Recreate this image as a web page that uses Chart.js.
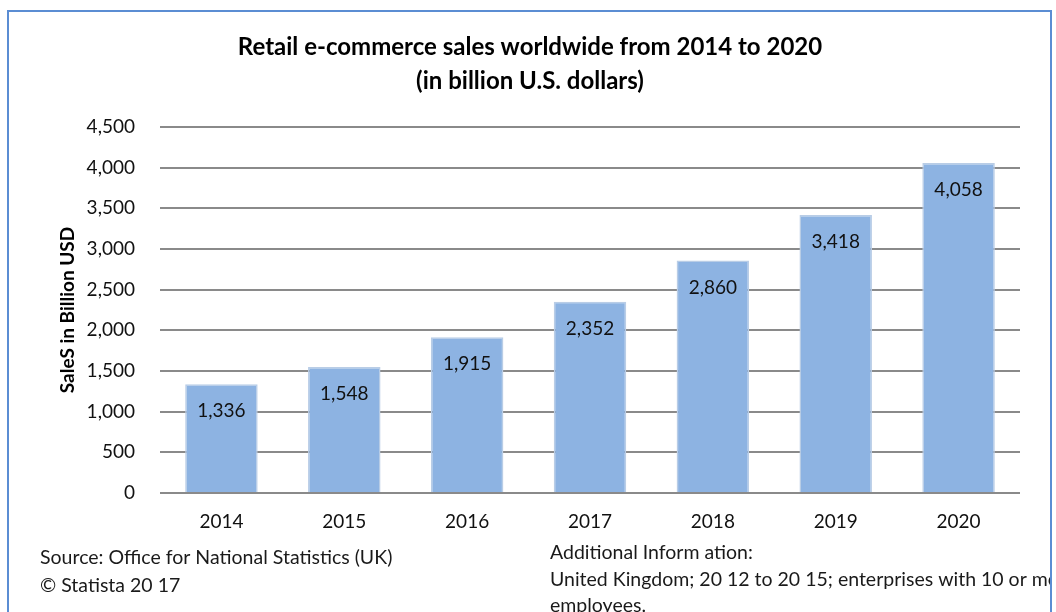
<!DOCTYPE html>
<html>
<head>
<meta charset="utf-8">
<title>Retail e-commerce sales worldwide</title>
<script src="https://cdn.jsdelivr.net/npm/chart.js@4/dist/chart.umd.min.js"></script>
<style>
  html, body { margin: 0; padding: 0; background: #ffffff; }
  #wrap { position: relative; width: 1056px; height: 612px; }
</style>
</head>
<body>
<div id="wrap"><canvas id="chart" width="1056" height="612"></canvas></div>
<script>
// Chart data
const years = ['2014', '2015', '2016', '2017', '2018', '2019', '2020'];
const sales = [1336, 1548, 1915, 2352, 2860, 3418, 4058];

// Text
const titleLines = ['Retail e-commerce sales worldwide from 2014 to 2020', '(in billion U.S. dollars)'];
const yAxisTitle = 'SaleS in Billion USD';
const sourceLines = ['Source: Office for National Statistics (UK)', '\u00A9 Statista 20 17'];
const infoLines = ['Additional Inform ation:', 'United Kingdom; 20 12 to 20 15; enterprises with 10 or more', 'employees.'];

const FONT = 'Lato, "Liberation Sans", sans-serif';

// Frame, title, footer notes
const decorations = {
  id: 'decorations',
  beforeDraw(chart) {
    const ctx = chart.ctx;
    ctx.save();
    ctx.fillStyle = '#ffffff';
    ctx.fillRect(0, 0, chart.width, chart.height);
    ctx.restore();
  },
  afterDraw(chart) {
    const ctx = chart.ctx;
    ctx.save();
    // title
    ctx.fillStyle = '#000000';
    ctx.font = 'bold 24px ' + FONT;
    ctx.textAlign = 'center';
    ctx.textBaseline = 'middle';
    ctx.fillText(titleLines[0], 530, 47);
    ctx.fillText(titleLines[1], 530, 81);

    // footer notes, clipped by the frame
    ctx.beginPath();
    ctx.rect(8, 11, 1043, 612);
    ctx.clip();
    ctx.font = '19.5px ' + FONT;
    ctx.textAlign = 'left';
    ctx.fillStyle = '#1a1a1a';
    ctx.fillText(sourceLines[0], 40, 558);
    ctx.fillText(sourceLines[1], 40, 586);
    ctx.fillText(infoLines[0], 550, 553);
    ctx.fillText(infoLines[1], 550, 580);
    ctx.fillText(infoLines[2], 550, 606);
    ctx.restore();

    // frame: left, top, right edges
    ctx.save();
    ctx.strokeStyle = '#5B8DD3';
    ctx.lineWidth = 2;
    ctx.beginPath();
    ctx.moveTo(8, 612);
    ctx.lineTo(8, 11);
    ctx.lineTo(1051, 11);
    ctx.lineTo(1051, 612);
    ctx.stroke();
    ctx.restore();
  }
};

// Value labels inside the top of each bar
const barValues = {
  id: 'barValues',
  afterDatasetsDraw(chart) {
    const ctx = chart.ctx;
    const meta = chart.getDatasetMeta(0);
    const values = chart.data.datasets[0].data;
    ctx.save();
    ctx.font = '19px ' + FONT;
    ctx.fillStyle = '#111111';
    ctx.textAlign = 'center';
    ctx.textBaseline = 'middle';
    meta.data.forEach((bar, i) => {
      ctx.fillText(values[i].toLocaleString('en-US'), bar.x, bar.y + 27);
    });
    ctx.restore();
  }
};

new Chart(document.getElementById('chart'), {
  type: 'bar',
  data: {
    labels: years,
    datasets: [{
      data: sales,
      backgroundColor: '#8DB3E2',
      borderColor: '#B9CDE6',
      borderWidth: 1.5,
      barPercentage: 0.59,
      categoryPercentage: 1.0
    }]
  },
  options: {
    responsive: false,
    animation: false,
    devicePixelRatio: 1,
    layout: { padding: { left: 50, right: 36, top: 127, bottom: 79 } },
    plugins: {
      legend: { display: false },
      title: { display: false },
      tooltip: { enabled: false }
    },
    scales: {
      x: {
        afterFit(scale) { scale.height = 40; },
        grid: { display: false, drawTicks: false },
        border: { display: false },
        ticks: { padding: 17, color: '#111111', font: { family: FONT, size: 19 } }
      },
      y: {
        min: 0,
        max: 4500,
        afterFit(scale) { scale.width = 110; },
        grid: { color: '#8A8A8A', lineWidth: 2, drawTicks: false },
        border: { display: false },
        ticks: {
          stepSize: 500,
          padding: 25,
          color: '#111111',
          font: { family: FONT, size: 19 },
          callback: (v) => v.toLocaleString('en-US')
        },
        title: {
          display: true,
          text: yAxisTitle,
          color: '#000000',
          font: { family: FONT, size: 19, weight: 'bold' },
          padding: { top: 6, bottom: 0 }
        }
      }
    }
  },
  plugins: [decorations, barValues]
});
</script>
</body>
</html>
